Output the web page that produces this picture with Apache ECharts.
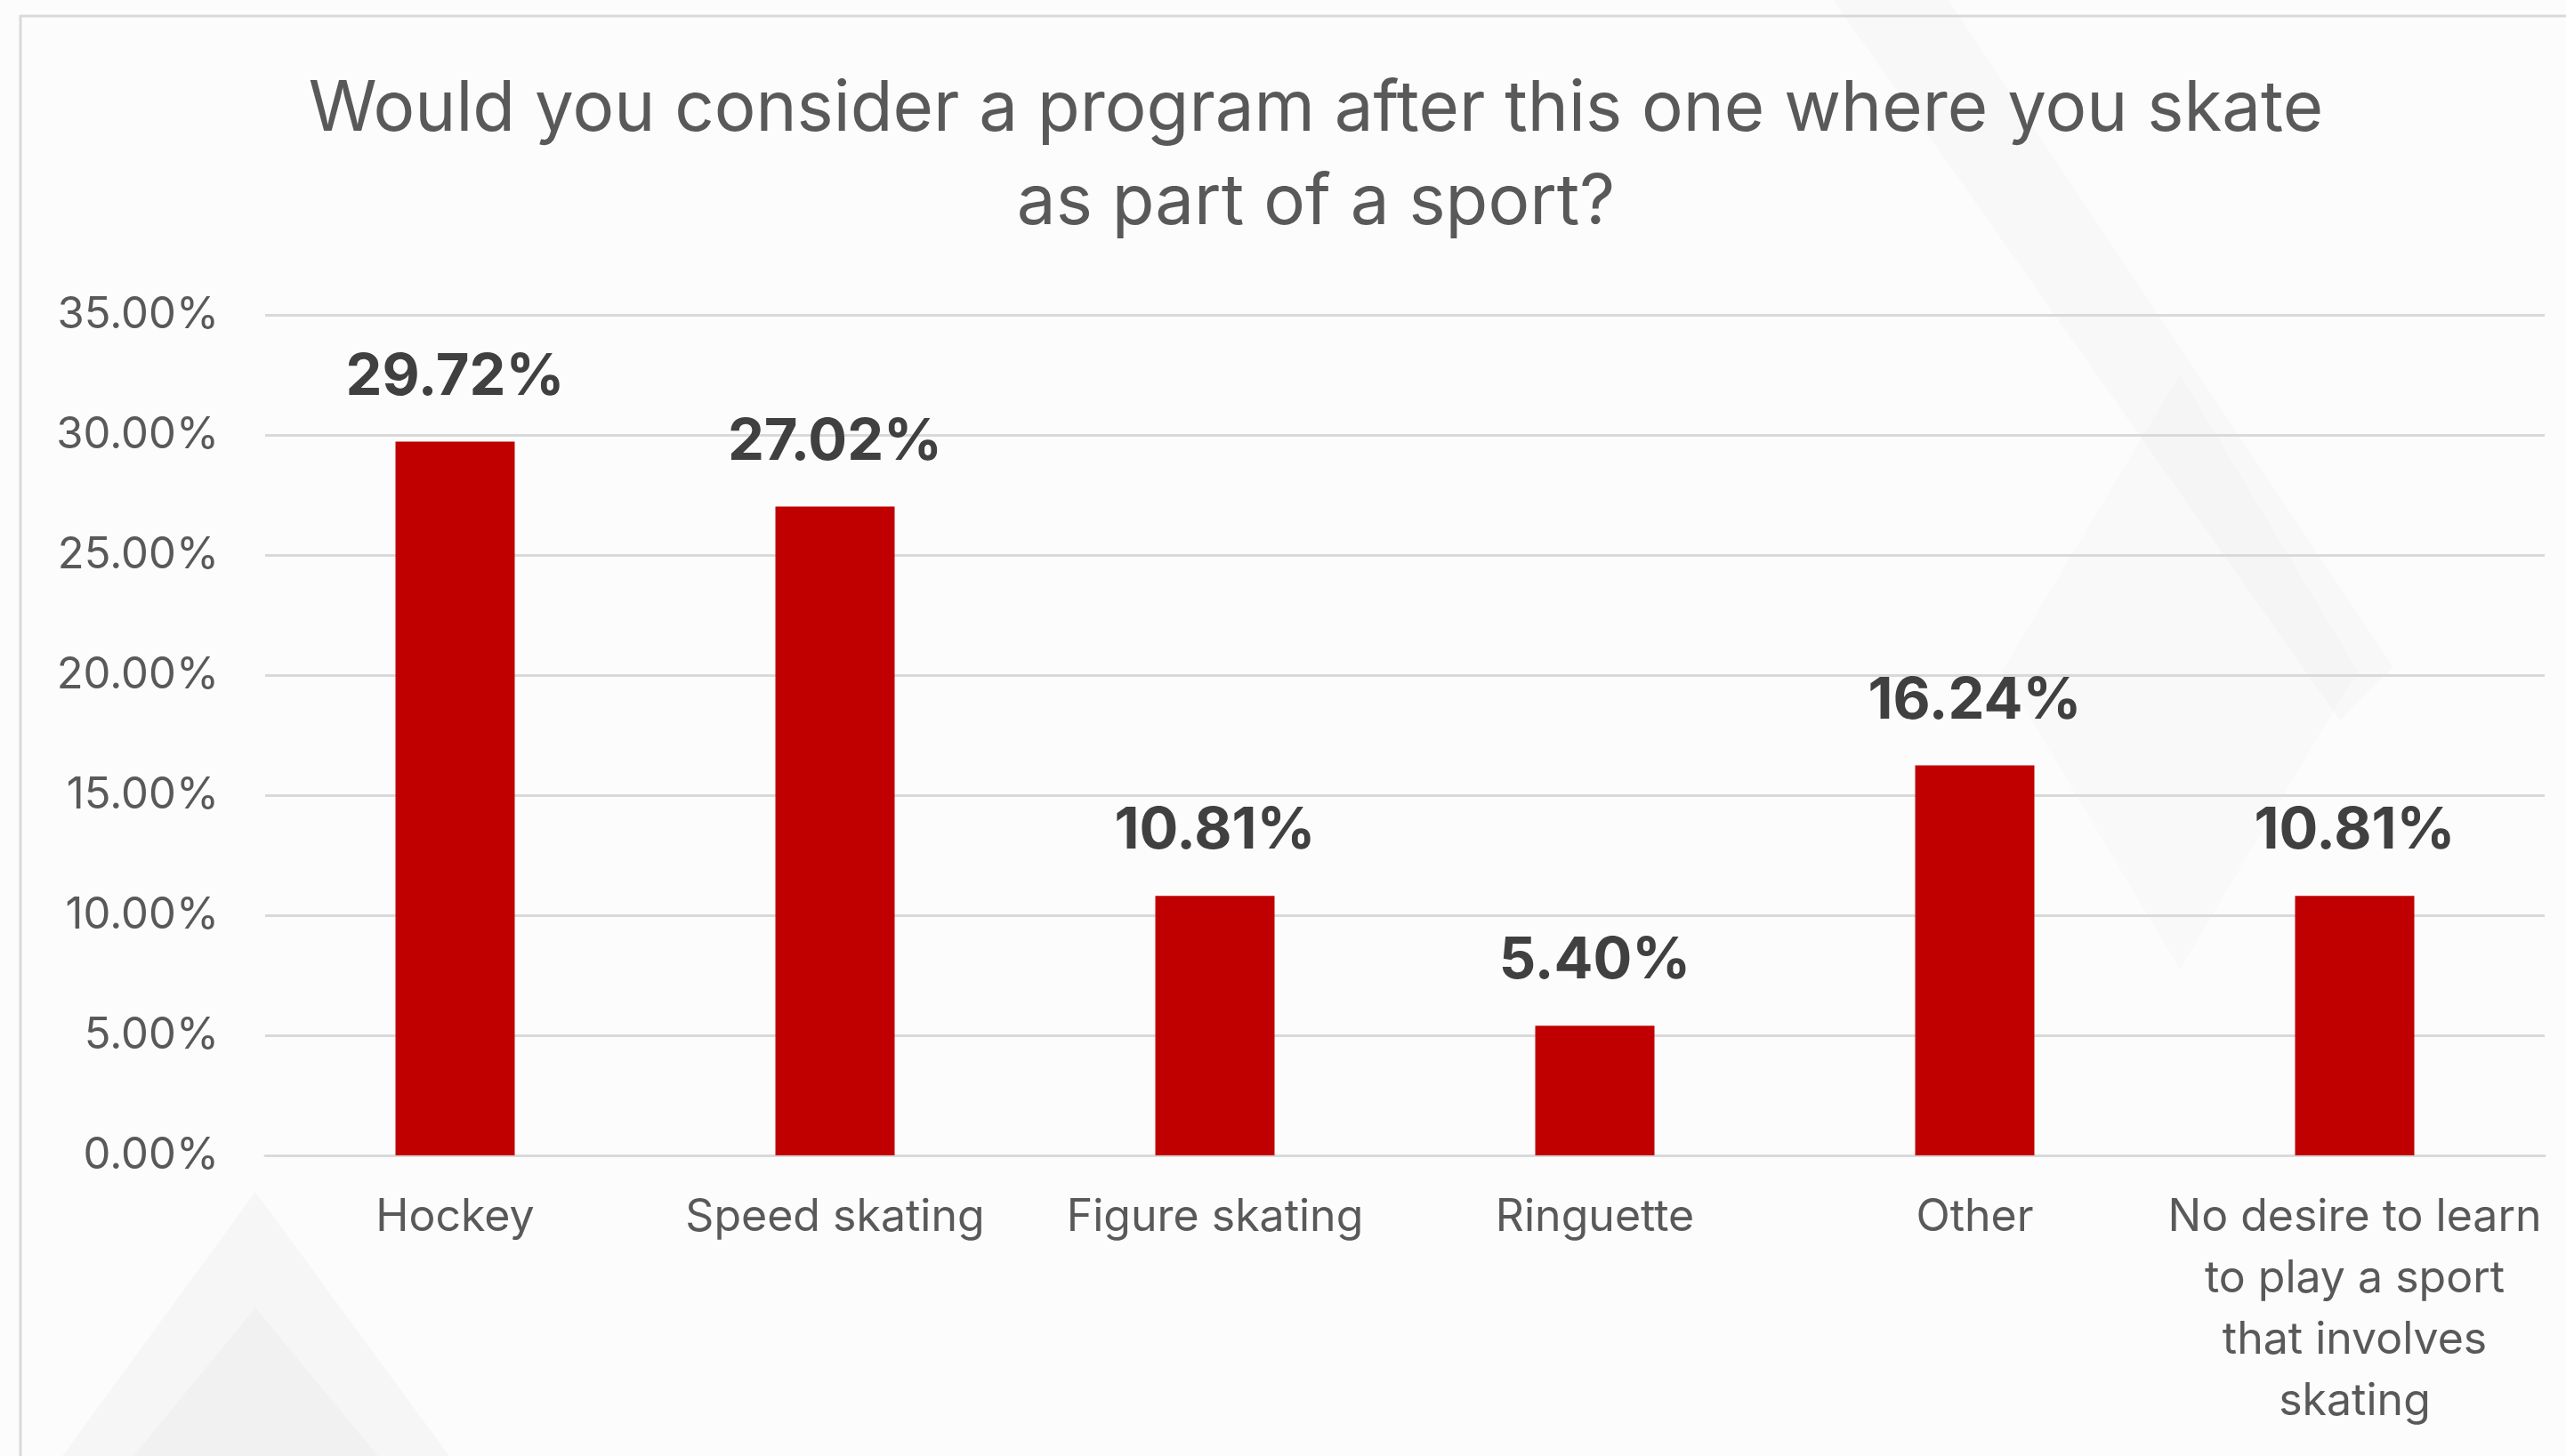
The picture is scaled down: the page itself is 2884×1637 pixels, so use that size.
<!DOCTYPE html>
<html>
<head>
<meta charset="utf-8">
<title>Skating sport program survey</title>
<script src="https://cdn.jsdelivr.net/npm/echarts@6/dist/echarts.min.js"></script>
<style>
  html, body { margin: 0; padding: 0; background: #fcfcfc; }
  #chart { width: 2884px; height: 1637px; }
</style>
</head>
<body>
<div id="chart"></div>
<script>
// Survey answers and their shares (percent of respondents)
const categories = [
  'Hockey',
  'Speed skating',
  'Figure skating',
  'Ringuette',
  'Other',
  'No desire to learn\nto play a sport\nthat involves\nskating'
];
const shares = [29.72, 27.02, 10.81, 5.40, 16.24, 10.81];

// Value axis range
const axisMin = 0;
const axisMax = 35;
const axisStep = 5;

const titleText = 'Would you consider a program after this one where you skate\nas part of a sport?';

const FONT = 'Inter, "Noto Sans", sans-serif';

const chart = echarts.init(document.getElementById('chart'), null, { renderer: 'canvas' });

chart.setOption({
  backgroundColor: '#fcfcfc',
  animation: false,
  title: {
    text: titleText,
    left: 1474,
    top: 66,
    textAlign: 'center',
    textStyle: {
      fontFamily: FONT,
      fontSize: 78,
      fontWeight: 'normal',
      color: '#595959',
      lineHeight: 105
    }
  },
  graphic: [
    // faint decorative shapes of the slide background
    {
      type: 'polygon', silent: true, z: -10,
      shape: { points: [[287, 1340], [70, 1637], [505, 1637]] },
      style: { fill: 'rgba(0,0,0,0.022)' }
    },
    {
      type: 'polygon', silent: true, z: -10,
      shape: { points: [[287, 1470], [150, 1637], [425, 1637]] },
      style: { fill: 'rgba(0,0,0,0.018)' }
    },
    {
      type: 'polygon', silent: true, z: -10,
      shape: { points: [[2060, 0], [2190, 0], [2690, 750], [2630, 810]] },
      style: { fill: 'rgba(0,0,0,0.016)' }
    },
    {
      type: 'polygon', silent: true, z: -10,
      shape: { points: [[2450, 420], [2650, 754], [2450, 1090], [2250, 754]] },
      style: { fill: 'rgba(0,0,0,0.01)' }
    },
    // slide frame
    {
      type: 'rect', silent: true, z: 10,
      shape: { x: 23, y: 18, width: 2950, height: 1700 },
      style: { fill: 'none', stroke: '#d9d9d9', lineWidth: 3 }
    }
  ],
  grid: {
    left: 298,
    right: 24,
    top: 354,
    bottom: 338,
    containLabel: false
  },
  xAxis: {
    type: 'category',
    data: categories,
    axisLine: { show: true, lineStyle: { color: '#d9d9d9', width: 3 } },
    axisTick: { show: false },
    axisLabel: {
      interval: 0,
      margin: 35,
      fontFamily: FONT,
      fontSize: 50,
      lineHeight: 69,
      color: '#595959',
      align: 'center'
    }
  },
  yAxis: {
    type: 'value',
    min: axisMin,
    max: axisMax,
    interval: axisStep,
    axisLine: { show: false },
    axisTick: { show: false },
    splitLine: { lineStyle: { color: '#d9d9d9', width: 3 } },
    axisLabel: {
      margin: 52,
      fontFamily: FONT,
      fontSize: 49,
      color: '#595959',
      formatter: v => v.toFixed(2) + '%'
    }
  },
  series: [{
    type: 'bar',
    data: shares,
    barWidth: 134,
    itemStyle: { color: '#C00000' },
    label: {
      show: true,
      position: 'top',
      distance: 40,
      fontFamily: FONT,
      fontSize: 65,
      lineHeight: 65,
      fontWeight: 'bold',
      color: '#404040',
      formatter: p => p.value.toFixed(2) + '%'
    }
  }]
});
</script>
</body>
</html>
